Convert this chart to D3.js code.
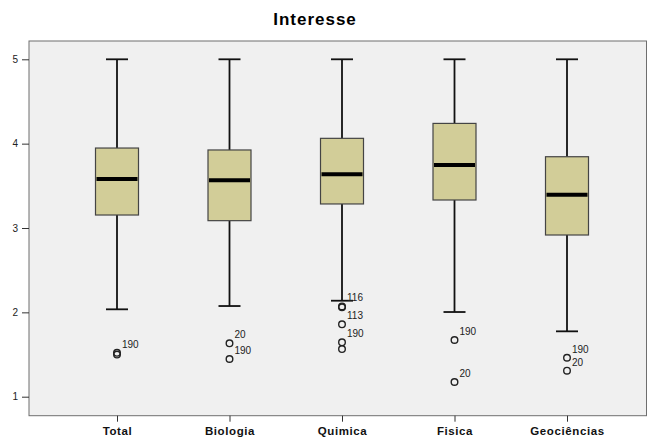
<!DOCTYPE html>
<html>
<head>
<meta charset="utf-8">
<script src="https://cdn.jsdelivr.net/npm/d3@7"></script>
<style>
body { margin:0; background:#fff; }
svg text { font-family: Arial, 'Liberation Sans', sans-serif; }
</style>
</head>
<body>
<div id="chart"></div>
<script>
var categories = ['Total','Biologia','Quimica','Fisica','Geociências']
var q1     = [3.154, 3.087, 3.285, 3.332, 2.917]
var median = [3.580, 3.565, 3.637, 3.747, 3.395]
var q3     = [3.948, 3.925, 4.063, 4.240, 3.845]
var whiskLo = [2.036, 2.075, 2.138, 2.004, 1.775]
var whiskHi = [5, 5, 5, 5, 5]
var outliers = [
	[[1.52,'190'],[1.50,'']],
	[[1.633,'20'],[1.447,'190']],
	[[2.07,'116'],[2.06,''],[1.858,'113'],[1.645,'190'],[1.565,'']],
	[[1.672,'190'],[1.174,'20']],
	[[1.462,'190'],[1.308,'20']]
]
var yTicks = [1,2,3,4,5]

var W = 649, H = 438
var frame = {left:29, right:646.5, top:41, bottom:415.7}

var svg = d3.select('#chart').append('svg')
            .attr('width', W)
            .attr('height', H)

var x = d3.scalePoint().domain(categories).range([117, 567])
var y = d3.scaleLinear().domain([1,5]).range([396.7, 59.3])

svg.append('text')
   .attr('x', 315).attr('y', 25)
   .attr('text-anchor','middle')
   .style('font-size','17px').style('font-weight','bold').style('letter-spacing','1px')
   .text('Interesse')

svg.append('rect')
   .attr('x', frame.left).attr('y', frame.top)
   .attr('width', frame.right-frame.left).attr('height', frame.bottom-frame.top)
   .style('fill','#f0f0f0').style('stroke','#6e6e6e').style('stroke-width',1)

// y axis
var yAxis = svg.append('g').attr('transform','translate(' + frame.left + ',0)')
	.call(d3.axisLeft(y).tickValues(yTicks).tickSize(7).tickPadding(4).tickFormat(d3.format('d')))
yAxis.select('.domain').remove()
yAxis.selectAll('line').style('stroke','#333')
yAxis.selectAll('text').style('font-size','10px').style('fill','#222').attr('font-family', null)

// x axis
var xAxis = svg.append('g').attr('transform','translate(0,' + frame.bottom + ')')
	.call(d3.axisBottom(x).tickSize(6).tickPadding(5))
xAxis.select('.domain').remove()
xAxis.selectAll('line').style('stroke','#333')
xAxis.selectAll('text').style('font-size','11.5px').style('font-weight','bold')
     .style('letter-spacing','0.6px').style('fill','#111').attr('font-family', null)

var boxW = 43, capW = 22

categories.forEach((c,i,a)=>{
	var cx = x(c)
	var g = svg.append('g').attr('class','box')
	g.append('line')
	 .attr('x1',cx).attr('x2',cx).attr('y1',y(whiskHi[i])).attr('y2',y(q3[i]))
	 .style('stroke','#111').style('stroke-width',1.8)
	g.append('line')
	 .attr('x1',cx).attr('x2',cx).attr('y1',y(q1[i])).attr('y2',y(whiskLo[i]))
	 .style('stroke','#111').style('stroke-width',1.8)
	;[whiskHi[i], whiskLo[i]].forEach(v=>{
		g.append('line')
		 .attr('x1',cx-capW/2).attr('x2',cx+capW/2).attr('y1',y(v)).attr('y2',y(v))
		 .style('stroke','#111').style('stroke-width',1.8)
	})
	g.append('rect')
	 .attr('x',cx-boxW/2).attr('y',y(q3[i]))
	 .attr('width',boxW).attr('height',y(q1[i])-y(q3[i]))
	 .style('fill','#d2cd98').style('stroke','#444').style('stroke-width',1.2)
	g.append('line')
	 .attr('x1',cx-boxW/2+1).attr('x2',cx+boxW/2-1).attr('y1',y(median[i])).attr('y2',y(median[i]))
	 .style('stroke','#000').style('stroke-width',4)
	outliers[i].forEach(o=>{
		g.append('circle')
		 .attr('cx',cx).attr('cy',y(o[0])).attr('r',3.3)
		 .style('fill','none').style('stroke','#222').style('stroke-width',1.4)
		if (o[1]) g.append('text')
		 .attr('x',cx+5).attr('y',y(o[0])-5)
		 .style('font-size','10px').style('fill','#222')
		 .text(o[1])
	})
})
</script>
</body>
</html>
